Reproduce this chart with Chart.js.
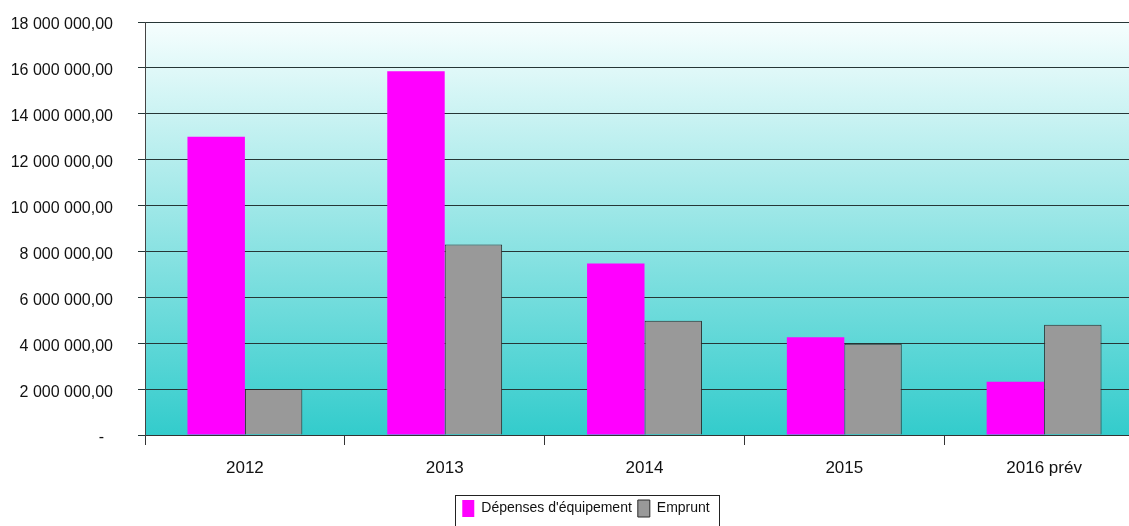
<!DOCTYPE html>
<html>
<head>
<meta charset="utf-8">
<script src="https://cdn.jsdelivr.net/npm/chart.js@4"></script>
<style>
  html, body { margin: 0; padding: 0; background: #fff; overflow: hidden; }
  #wrap { width: 1145px; height: 526px; }
</style>
</head>
<body>
<div id="wrap"><canvas id="bar-chart" width="1145" height="526"></canvas></div>
<script>
const years = ['2012', '2013', '2014', '2015', '2016 prév'];
const depenses = [13000000, 15850000, 7480000, 4260000, 2320000];
const emprunt = [2000000, 8300000, 4980000, 3980000, 4800000];
const yTicks = [0, 2000000, 4000000, 6000000, 8000000, 10000000, 12000000, 14000000, 16000000, 18000000];

const sans = "'Liberation Sans', Arial, sans-serif";

// 16 000 000,00 style labels, a dash for zero
function euroLabel(v) {
  if (v === 0) return '-  ';
  const s = Math.round(v).toString().replace(/\B(?=(\d{3})+(?!\d))/g, ' ');
  return s + ',00';
}

// gradient behind the plot area + frame around the legend
const decor = {
  id: 'decor',
  beforeDraw(chart) {
    const {ctx, chartArea: a} = chart;
    const g = ctx.createLinearGradient(0, a.top, 0, a.bottom);
    g.addColorStop(0, '#f6fefe');
    g.addColorStop(1, '#33cccc');
    ctx.save();
    ctx.fillStyle = g;
    ctx.fillRect(a.left, a.top, a.right - a.left, a.bottom - a.top);
    ctx.restore();
  },
  afterUpdate(chart) {
    const lg = chart.legend;
    const dx = 14, dy = 1;
    lg.left += dx;
    lg.right += dx;
    lg.top += dy;
    lg.bottom += dy;
    lg.legendHitBoxes.forEach(b => { b.left += dx; b.top += dy; });
  },
  afterDraw(chart) {
    const boxes = chart.legend.legendHitBoxes;
    if (!boxes.length) return;
    const l = Math.min(...boxes.map(b => b.left)) - 7;
    const r = Math.max(...boxes.map(b => b.left + b.width)) + 10;
    const t = Math.min(...boxes.map(b => b.top)) - 5;
    const ctx = chart.ctx;
    ctx.save();
    ctx.strokeStyle = '#222';
    ctx.lineWidth = 1;
    ctx.strokeRect(Math.round(l) + 0.5, Math.round(t) + 0.5, Math.round(r - l), 40);
    ctx.restore();
  }
};

new Chart(document.getElementById('bar-chart'), {
  type: 'bar',
  data: {
    labels: years,
    datasets: [
      {
        label: "Dépenses d'équipement",
        data: depenses,
        backgroundColor: '#ff00ff',
        borderWidth: 0
      },
      {
        label: 'Emprunt',
        data: emprunt,
        backgroundColor: '#999999',
        borderColor: '#2a2a2a',
        borderWidth: 1
      }
    ]
  },
  options: {
    responsive: false,
    animation: false,
    layout: { padding: { top: 22, right: 1, bottom: 0, left: 0 } },
    datasets: { bar: { barPercentage: 1, categoryPercentage: 0.575 } },
    scales: {
      x: {
        grid: { drawOnChartArea: false, drawTicks: true, tickLength: 10, color: '#333', offset: true },
        border: { color: '#333', width: 1 },
        ticks: { color: '#111', font: { family: sans, size: 17 }, padding: 13, maxRotation: 0 },
        afterFit(scale) { scale.height = 58; }
      },
      y: {
        min: 0,
        max: 18000000,
        afterBuildTicks(scale) { scale.ticks = yTicks.map(v => ({ value: v })); },
        grid: { color: '#263636', lineWidth: 1, drawTicks: true, tickLength: 7 },
        border: { color: '#444', width: 1 },
        ticks: { color: '#111', font: { family: sans, size: 16 }, padding: 25, labelOffset: 3, callback: euroLabel },
        afterFit(scale) {
          scale.width = 145;
          scale.paddingTop = 0;
          scale.paddingBottom = 0;
        }
      }
    },
    plugins: {
      legend: {
        position: 'bottom',
        labels: {
          color: '#111',
          font: { family: sans, size: 14 },
          boxWidth: 12,
          boxHeight: 17,
          padding: 6
        }
      },
      tooltip: { enabled: false }
    }
  },
  plugins: [decor]
});
</script>
</body>
</html>
